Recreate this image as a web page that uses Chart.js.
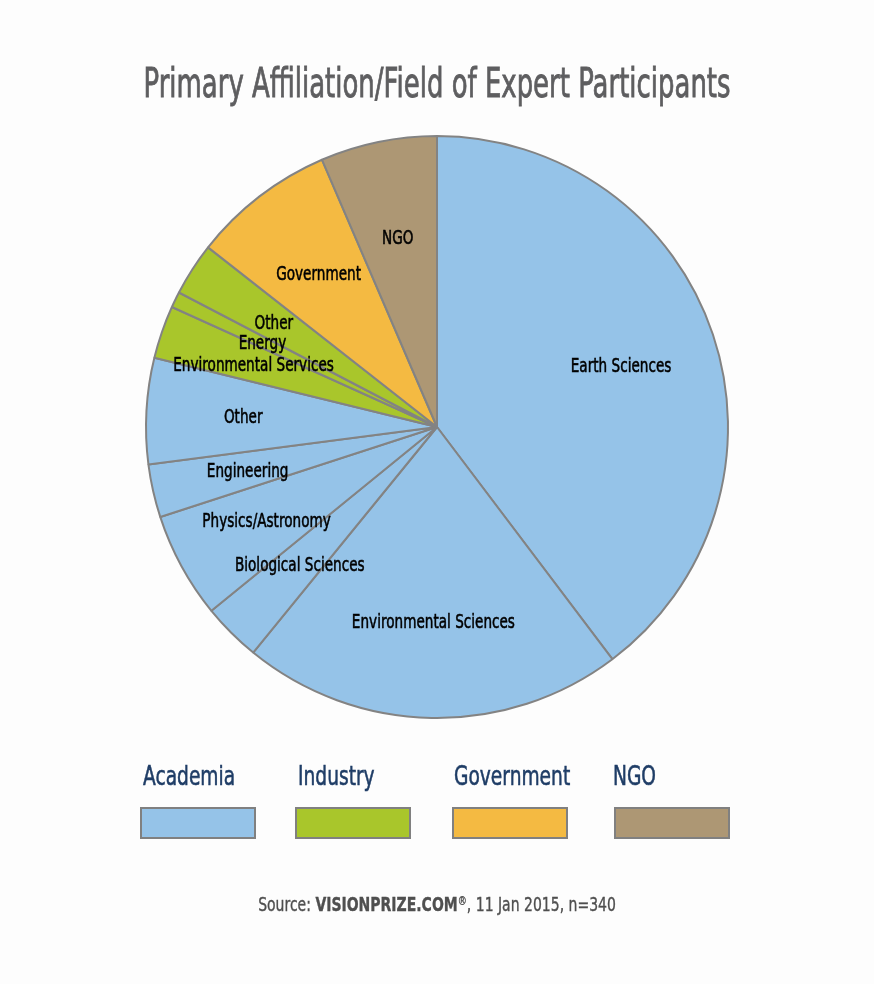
<!DOCTYPE html>
<html>
<head>
<meta charset="utf-8">
<script src="https://cdn.jsdelivr.net/npm/chart.js@4.4.1/dist/chart.umd.min.js"></script>
<style>
  html, body { margin: 0; padding: 0; background: #fdfdfd; }
  #wrap { width: 874px; height: 984px; }
</style>
</head>
<body>
<div id="wrap"><canvas id="myChart" width="874" height="984"></canvas></div>
<script>
// slices, clockwise from 12 o'clock
var categories = ['Earth Sciences', 'Environmental Sciences', 'Biological Sciences', 'Physics/Astronomy',
                  'Engineering', 'Other', 'Environmental Services', 'Energy', 'Other', 'Government', 'NGO'];
var counts = [135, 72, 11, 20, 10, 20, 10, 3, 10, 27, 22];
var sliceGroup = [0, 0, 0, 0, 0, 0, 1, 1, 1, 2, 3];

var groupNames = ['Academia', 'Industry', 'Government', 'NGO'];
var groupColors = ['#95c3e8', '#a9c62b', '#f4ba42', '#ad9774'];

var titleText = 'Primary Affiliation/Field of Expert Participants';
var FONT = '"DejaVu Sans", sans-serif';

// the original uses a condensed face, so text is squeezed horizontally by sx
function drawText(ctx, txt, x, y, font, color, sx, align, weight) {
    ctx.save();
    ctx.font = font;
    ctx.fillStyle = color;
    ctx.textBaseline = 'alphabetic';
    ctx.textAlign = 'left';
    var w = ctx.measureText(txt).width;
    var left = x;
    if (align === 'center') left = x - w * sx / 2;
    ctx.translate(left, y);
    ctx.scale(sx, 1);
    ctx.fillText(txt, 0, 0);
    if (weight) {
        ctx.strokeStyle = color;
        ctx.lineWidth = weight;
        ctx.strokeText(txt, 0, 0);
    }
    ctx.restore();
    return w * sx;
}

var extras = {
    id: 'extras',
    afterDraw: function (chart) {
        var ctx = chart.ctx;
        // title
        ctx.font = '40px ' + FONT;
        var tw = ctx.measureText(titleText).width;
        drawText(ctx, titleText, 437, 97, '40px ' + FONT, '#5e5e60', 587 / tw, 'center', 0.9);

        // slice labels at 2/3 of the radius
        var meta = chart.getDatasetMeta(0);
        meta.data.forEach(function (arc, i) {
            var p = arc.getProps(['x', 'y', 'startAngle', 'endAngle', 'outerRadius'], true);
            var mid = (p.startAngle + p.endAngle) / 2;
            var r = p.outerRadius * 0.667;
            var tx = p.x + Math.cos(mid) * r, ty = p.y + Math.sin(mid) * r;
            drawText(ctx, categories[i], tx, ty + 7, '20px ' + FONT, '#000', 0.68, 'center', 0.6);
        });

        // group legend: name above a swatch
        for (var g = 0; g < groupNames.length; g++) {
            var bx = [141, 296, 453, 615][g];
            drawText(ctx, groupNames[g], bx + [2, 2, 1, -2][g], 785, '27px ' + FONT, '#1f3d66', 0.69, 'left', 0.6);
            ctx.save();
            ctx.fillStyle = groupColors[g];
            ctx.strokeStyle = '#808080';
            ctx.lineWidth = 2;
            ctx.fillRect(bx, 808, 114, 30);
            ctx.strokeRect(bx, 808, 114, 30);
            ctx.restore();
        }

        // source line
        var y = 911, sx = 0.70;
        var parts = [
            ['Source: ', '20px ' + FONT],
            ['VISIONPRIZE.COM', 'bold 20px ' + FONT],
            ['\u00ae', '13px ' + FONT],
            [', 11 Jan 2015, n=340', '20px ' + FONT]
        ];
        var total = 0;
        parts.forEach(function (pt) { ctx.font = pt[1]; total += ctx.measureText(pt[0]).width * sx; });
        var x = 437 - total / 2;
        parts.forEach(function (pt, k) {
            x += drawText(ctx, pt[0], x, k === 2 ? y - 6 : y, pt[1], '#4f4f4f', sx, 'left', 0.4);
        });
    }
};

var ctx = document.getElementById('myChart').getContext('2d');
var myChart = new Chart(ctx, {
    type: 'pie',
    data: {
        labels: categories,
        datasets: [{
            data: counts,
            backgroundColor: sliceGroup.map(function (g) { return groupColors[g]; }),
            borderColor: '#838383',
            borderWidth: 2,
            hoverBorderWidth: 2
        }]
    },
    options: {
        responsive: false,
        maintainAspectRatio: false,
        animation: false,
        events: [],
        layout: { padding: { left: 145, right: 145, top: 135, bottom: 265 } },
        plugins: {
            legend: { display: false },
            tooltip: { enabled: false },
            title: { display: false }
        }
    },
    plugins: [extras]
});
</script>
</body>
</html>
